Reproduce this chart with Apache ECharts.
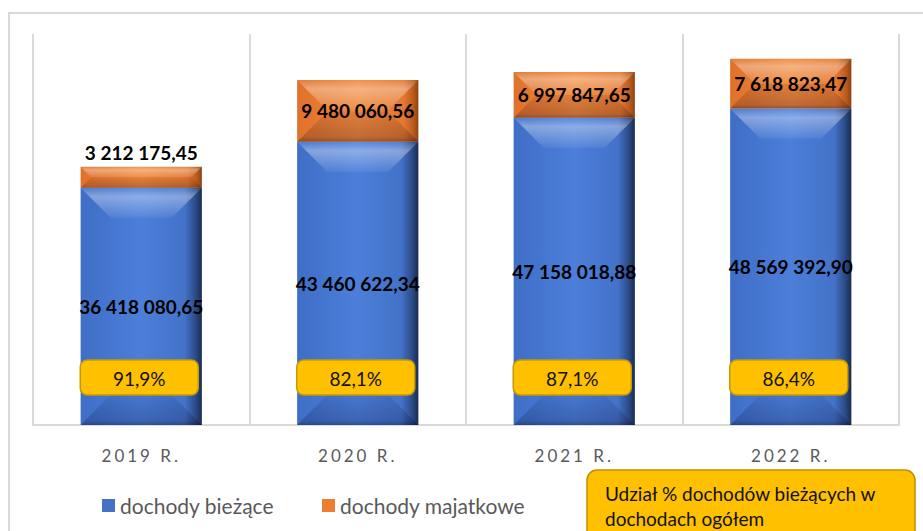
<!DOCTYPE html>
<html>
<head>
<meta charset="utf-8">
<script src="https://cdn.jsdelivr.net/npm/echarts@6/dist/echarts.min.js"></script>
<style>
  html, body { margin: 0; padding: 0; background: #fff; }
  #main { width: 923px; height: 531px; }
  /* odstępy liter w podpisach osi (tylko tekst w kolorze osi) */
  #main text[fill="#5a5a5a"] { letter-spacing: 3px; }
</style>
</head>
<body>
<div id="main"></div>
<script>
const lata = ['2019 R.', '2020 R.', '2021 R.', '2022 R.'];
const biezace = [36418080.65, 43460622.34, 47158018.88, 48569392.90];
const majatkowe = [3212175.45, 9480060.56, 6997847.65, 7618823.47];
const udzial = [91.9, 82.1, 87.1, 86.4];

function fmt(v) {
  const parts = v.toFixed(2).split('.');
  return parts[0].replace(/\B(?=(\d{3})+(?!\d))/g, ' ') + ',' + parts[1];
}

const LG = echarts.graphic.LinearGradient;

const blue = {
  side: [
    { offset: 0, color: '#3F6EC6' },
    { offset: 0.5, color: '#4C7FDA' },
    { offset: 0.86, color: '#4372C8' },
    { offset: 0.95, color: '#2B4A86' },
    { offset: 1, color: '#1A2C50' }
  ]
};
const orange = {
  side: [
    { offset: 0, color: '#E0712A' },
    { offset: 0.5, color: '#F0883C' },
    { offset: 0.88, color: '#E5782F' },
    { offset: 0.96, color: '#B85A1E' },
    { offset: 1, color: '#8C4212' }
  ]
};

function bevelBar(pal, isBase) {
  return function (params, api) {
    const i = api.value(0);
    const p0 = api.coord([i, api.value(1)]);
    const p1 = api.coord([i, api.value(2)]);
    const w = api.size([1, 0])[0] * 0.56;
    const L = p0[0] - w / 2, R = L + w, T = p1[1], B = p0[1], h = B - T;
    const d = Math.min(30, h / 2, w / 2);
    const cx = p0[0];
    const children = [
      { type: 'rect', shape: { x: L, y: T, width: w, height: h },
        style: { fill: new LG(0, 0, 1, 0, pal.side) } },
      { type: 'polygon', shape: { points: [[L, T], [R, T], [R - d, T + d], [L + d, T + d]] },
        style: { fill: new LG(0, 0, 0, 1, [
          { offset: 0, color: 'rgba(255,255,255,0.08)' },
          { offset: 0.3, color: 'rgba(255,255,255,0.36)' },
          { offset: 1, color: 'rgba(255,255,255,0.06)' }
        ]) } },
      { type: 'polygon', shape: { points: [[L, B], [R, B], [R - d, B - d], [L + d, B - d]] },
        style: { fill: new LG(0, 1, 0, 0, [
          { offset: 0, color: 'rgba(0,0,30,0.38)' },
          { offset: 0.15, color: 'rgba(0,0,30,0.20)' },
          { offset: 1, color: 'rgba(0,0,30,0.06)' }
        ]) } }
    ];
    const val = api.value(2) - api.value(1);
    const ly = h < 30 ? T - 14 : (T + B) / 2;
    children.push({
      type: 'text', x: cx, y: ly,
      style: { text: fmt(val), font: 'bold 19px Lato', fill: '#000',
               align: 'center', verticalAlign: 'middle' }
    });
    if (isBase) {
      children.push({
        type: 'rect', shape: { x: cx - 61, y: B - 65, width: 118, height: 35, r: 7 },
        style: { fill: '#FFC000', stroke: '#C49A00', lineWidth: 1.5 }
      });
      children.push({
        type: 'text', x: cx - 2, y: B - 47,
        style: { text: udzial[i].toFixed(1).replace('.', ',') + '%', font: '19px Lato',
                 fill: '#111', align: 'center', verticalAlign: 'middle' }
      });
    }
    return { type: 'group', children: children };
  };
}

const chart = echarts.init(document.getElementById('main'), null, { renderer: 'svg' });

chart.setOption({
  animation: false,
  grid: { left: 33, right: 24, top: 34, bottom: 106 },
  graphic: [
    { type: 'rect', shape: { x: 9, y: 13, width: 940, height: 560 },
      style: { fill: 'none', stroke: '#D9D9D9', lineWidth: 2 }, z: -10 },
    { type: 'rect', shape: { x: 587, y: 470, width: 328, height: 80, r: 10 },
      style: { fill: '#FFC000', stroke: '#BF9000', lineWidth: 1.5 }, z: 10 },
    { type: 'text', x: 605, y: 481, z: 11,
      style: { text: 'Udział % dochodów bieżących w\ndochodach ogółem', font: '19px Lato',
               fill: '#111', lineHeight: 25 } }
  ],
  legend: {
    left: 97, top: 490,
    itemWidth: 13, itemHeight: 13, itemGap: 48,
    icon: 'rect',
    textStyle: { color: '#595959', fontSize: 21, fontFamily: 'Lato' },
    data: ['dochody bieżące', 'dochody majatkowe']
  },
  xAxis: {
    type: 'category',
    data: lata,
    axisLine: { lineStyle: { color: '#D9D9D9', width: 2 } },
    axisTick: { show: false },
    axisLabel: { color: '#5a5a5a', fontSize: 17, fontFamily: 'Lato', margin: 22 },
    splitLine: { show: true, lineStyle: { color: '#D9D9D9', width: 2 } }
  },
  yAxis: {
    type: 'value', min: 0, max: 60000000, show: false,
    splitLine: { show: false }
  },
  series: [
    {
      name: 'dochody bieżące', type: 'custom',
      itemStyle: { color: '#4472C4' },
      renderItem: bevelBar(blue, true),
      encode: { x: 0, y: [1, 2] },
      data: biezace.map((v, i) => [i, 0, v])
    },
    {
      name: 'dochody majatkowe', type: 'custom',
      itemStyle: { color: '#ED7D31' },
      renderItem: bevelBar(orange, false),
      encode: { x: 0, y: [1, 2] },
      data: majatkowe.map((v, i) => [i, biezace[i], biezace[i] + v])
    }
  ]
});
</script>
</body>
</html>
